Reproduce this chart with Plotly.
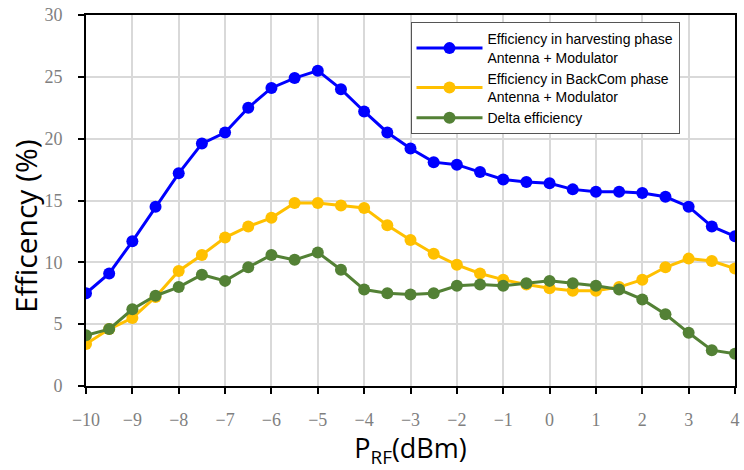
import plotly.graph_objects as go

x_dbm = [-10, -9.5, -9, -8.5, -8, -7.5, -7, -6.5, -6, -5.5, -5, -4.5, -4, -3.5, -3,
         -2.5, -2, -1.5, -1, -0.5, 0, 0.5, 1, 1.5, 2, 2.5, 3, 3.5, 4]
harvest = [7.5, 9.1, 11.7, 14.5, 17.2, 19.6, 20.5, 22.5, 24.1, 24.9, 25.5, 24.0, 22.2, 20.5, 19.2,
           18.1, 17.9, 17.3, 16.7, 16.5, 16.4, 15.9, 15.7, 15.7, 15.6, 15.3, 14.5, 12.9, 12.1]
backcom = [3.4, 4.6, 5.5, 7.2, 9.3, 10.6, 12.0, 12.9, 13.6, 14.8, 14.8, 14.6, 14.4, 13.0, 11.8,
           10.7, 9.8, 9.1, 8.6, 8.2, 7.9, 7.7, 7.7, 8.0, 8.6, 9.6, 10.3, 10.1, 9.5]
delta = [4.1, 4.6, 6.2, 7.3, 8.0, 9.0, 8.5, 9.6, 10.6, 10.2, 10.8, 9.4, 7.8, 7.5, 7.4,
         7.5, 8.1, 8.2, 8.1, 8.3, 8.5, 8.3, 8.1, 7.8, 7.0, 5.8, 4.3, 2.9, 2.6]

names = ["Efficiency in harvesting phase<br>Antenna + Modulator",
         "Efficiency in BackCom phase<br>Antenna + Modulator",
         "Delta efficiency"]
colors = ["#0000FF", "#FFC000", "#538135"]

x_ticks = list(range(-10, 5))
x_ticklabels = [("\u2212" + str(-v)) if v < 0 else str(v) for v in x_ticks]
y_ticks = [0, 5, 10, 15, 20, 25, 30]

fig = go.Figure()
for ys, nm, c in zip([harvest, backcom, delta], names, colors):
    fig.add_trace(go.Scatter(
        x=x_dbm, y=ys, name=nm, mode="lines+markers",
        line=dict(color=c, width=3),
        marker=dict(color=c, size=12, line=dict(width=0)),
    ))

fig.update_layout(
    width=744, height=470,
    margin=dict(l=86, r=4, t=15, b=84),
    paper_bgcolor="white", plot_bgcolor="white",
    showlegend=True,
    legend=dict(
        x=0.5, y=0.98, xanchor="left", yanchor="top",
        bgcolor="white", bordercolor="#555555", borderwidth=1,
        font=dict(family="Liberation Sans, Arial", size=14, color="black"),
        tracegroupgap=0,
        itemwidth=66,
    ),
    annotations=[dict(
        text="Efficency (%)", textangle=-90,
        xref="paper", yref="paper", x=-0.093, y=0.43,
        xanchor="center", yanchor="middle", showarrow=False,
        font=dict(family="Open Sans, Liberation Sans", size=30, color="black"),
    )],
)
fig.update_xaxes(
    range=[-10, 4], tickvals=x_ticks, ticktext=x_ticklabels,
    showgrid=True, gridcolor="#D9D9D9", gridwidth=1.5,
    showline=True, linecolor="black", linewidth=2, mirror=True,
    ticks="outside", ticklen=6, tickwidth=1.5, tickcolor="black",
    ticklabelstandoff=10,
    tickfont=dict(family="Liberation Serif, Times New Roman", size=18, color="#7F7F7F"),
    zeroline=False,
    title=dict(text="P<sub>RF</sub>(dBm)", font=dict(family="Open Sans, Liberation Sans", size=27, color="black"), standoff=6),
)
fig.update_yaxes(
    range=[0, 30], tickvals=y_ticks,
    showgrid=True, gridcolor="#D9D9D9", gridwidth=1.5,
    showline=True, linecolor="black", linewidth=2, mirror=True,
    ticks="outside", ticklen=6, tickwidth=1.5, tickcolor="black",
    ticklabelstandoff=12,
    tickfont=dict(family="Liberation Serif, Times New Roman", size=18, color="#7F7F7F"),
    zeroline=False,
)

fig.write_html("out.html")
